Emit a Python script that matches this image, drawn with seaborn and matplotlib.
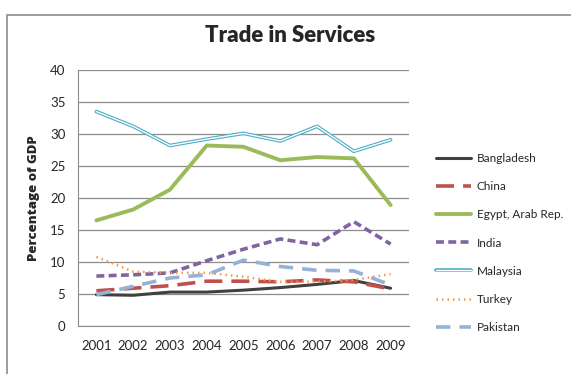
import pandas as pd
import numpy as np
import seaborn as sns
import matplotlib.pyplot as plt
from matplotlib.lines import Line2D
from matplotlib.patches import Rectangle
from matplotlib.legend_handler import HandlerTuple

sns.set_style("white")
plt.rcParams["font.family"] = ["Lato", "DejaVu Sans"]

years = [2001, 2002, 2003, 2004, 2005, 2006, 2007, 2008, 2009]
countries = ["Bangladesh", "China", "Egypt, Arab Rep.", "India", "Malaysia", "Turkey", "Pakistan"]
bangladesh = [4.9, 4.8, 5.3, 5.3, 5.6, 6.0, 6.5, 7.1, 5.9]
china = [5.5, 5.9, 6.3, 7.0, 7.0, 6.9, 7.2, 6.9, 5.8]
egypt = [16.5, 18.2, 21.3, 28.2, 28.0, 25.9, 26.4, 26.2, 18.9]
india = [7.8, 8.0, 8.3, 10.2, 12.0, 13.6, 12.7, 16.3, 12.8]
malaysia = [33.5, 31.2, 28.2, 29.2, 30.1, 28.9, 31.2, 27.3, 29.1]
turkey = [10.8, 8.5, 8.3, 8.3, 7.7, 6.9, 6.9, 7.2, 8.1]
pakistan = [4.9, 6.2, 7.5, 8.0, 10.3, 9.3, 8.7, 8.6, 6.4]

values = [bangladesh, china, egypt, india, malaysia, turkey, pakistan]
df = pd.DataFrame({
    "year": np.tile(years, len(countries)),
    "country": np.repeat(countries, len(years)),
    "pct": np.concatenate(values),
})

palette = {
    "Bangladesh": "#404040",
    "China": "#C0504D",
    "Egypt, Arab Rep.": "#9BBB59",
    "India": "#8064A2",
    "Malaysia": "#4BACC6",
    "Turkey": "#F79646",
    "Pakistan": "#95B3D7",
}
dashes = {
    "Bangladesh": "",
    "China": (5, 2.5),
    "Egypt, Arab Rep.": "",
    "India": (2.2, 1.2),
    "Malaysia": "",
    "Turkey": (0.6, 1.6),
    "Pakistan": (4, 2.5),
}
widths = {
    "Bangladesh": 2.2,
    "China": 2.6,
    "Egypt, Arab Rep.": 2.8,
    "India": 2.6,
    "Malaysia": 2.6,
    "Turkey": 1.8,
    "Pakistan": 2.6,
}

fig = plt.figure(figsize=(5.71, 3.74), dpi=100)
fig.patches.append(Rectangle((7 / 571, -0.1), 1.2, 1 - 15 / 374 + 0.1,
                             transform=fig.transFigure, fill=False,
                             edgecolor="#8c8c8c", linewidth=1.2))
ax = fig.add_axes([78 / 571, 1 - 326 / 374, 331 / 571, 256 / 374])

for c in countries:
    sub = df[df["country"] == c]
    sns.lineplot(data=sub, x="year", y="pct", color=palette[c],
                 linewidth=widths[c], ax=ax, legend=False,
                 dashes=dashes[c] if dashes[c] else (None, None))
    if c == "Malaysia":
        sns.lineplot(data=sub, x="year", y="pct", color="white",
                     linewidth=1.0, ax=ax, legend=False)

ax.set_xlim(2000.5, 2009.5)
ax.set_ylim(0, 40)
ax.set_yticks(range(0, 41, 5))
ax.set_xticks(years)
ax.set_xticklabels([str(y) for y in years])
ax.tick_params(axis="x", labelsize=9.5, length=0, pad=10)
ax.tick_params(axis="y", labelsize=9.5, length=3, width=0.8, color="#8c8c8c", pad=6)
ax.yaxis.grid(True, color="#8c8c8c", linewidth=0.9)
ax.xaxis.grid(False)
for s in ["top", "right"]:
    ax.spines[s].set_visible(False)
ax.spines["left"].set_color("#8c8c8c")
ax.spines["bottom"].set_color("#8c8c8c")
ax.set_xlabel("")
ax.set_ylabel("Percentage of GDP", fontsize=9.5, fontweight="heavy", labelpad=7,
              family=["Open Sans", "DejaVu Sans"])

fig.text(290 / 571, 1 - 35 / 374, "Trade in Services", ha="center", va="center",
         fontsize=16, fontweight="heavy")

handles = []
for c in countries:
    ls = (0, dashes[c]) if dashes[c] else "-"
    h = Line2D([], [], color=palette[c], linewidth=widths[c], linestyle=ls)
    if c == "Malaysia":
        h = (h, Line2D([], [], color="white", linewidth=1.0))
    handles.append(h)
fig.legend(handles, countries, loc="center left",
           bbox_to_anchor=(425 / 571, 1 - 243 / 374), frameon=False,
           fontsize=8.5, labelspacing=1.45, handlelength=3.0, handletextpad=0.5,
           handler_map={tuple: HandlerTuple(ndivide=1)})

fig.savefig("out.png", dpi=100)
